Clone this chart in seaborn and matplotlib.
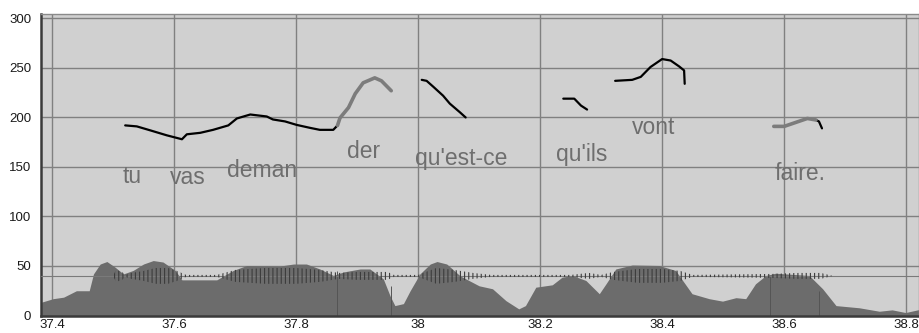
import numpy as np
import pandas as pd
import matplotlib
matplotlib.use("Agg")
import matplotlib.pyplot as plt
import seaborn as sns

# pitch contour (Hz), one list per voiced stretch
tu_deman_t = [37.520, 37.539, 37.561, 37.588, 37.613, 37.621, 37.643, 37.664, 37.689,
              37.703, 37.725, 37.752, 37.762, 37.782, 37.801, 37.823, 37.839, 37.861, 37.868]
tu_deman_f = [192, 191, 187, 182, 178, 183, 184.5, 187.5, 192,
              199, 203, 201, 198, 196, 192.5, 189.5, 187.5, 187.5, 192]
der_t = [37.868, 37.872, 37.886, 37.897, 37.910, 37.929, 37.940, 37.956]
der_f = [192, 199.5, 210, 224, 235, 240, 237, 227]
questce_t = [38.006, 38.014, 38.025, 38.041, 38.052, 38.069, 38.078]
questce_f = [238, 237, 231, 222, 214, 205, 200]
quils_t = [38.238, 38.256, 38.267, 38.277]
quils_f = [219, 219, 212, 208]
vont_t = [38.323, 38.351, 38.365, 38.381, 38.400, 38.414, 38.428, 38.436, 38.437]
vont_f = [237, 238, 241, 251, 259, 257.5, 251.5, 247.5, 234]
faire_t = [38.583, 38.600, 38.619, 38.638, 38.652]
faire_f = [191, 191, 195, 199, 197.5]
faire_end_t = [38.652, 38.657, 38.662]
faire_end_f = [197.5, 196, 189]

# intensity curve (dark filled area)
int_t = [37.383, 37.402, 37.419, 37.440, 37.461, 37.468, 37.479, 37.490, 37.503, 37.517,
         37.533, 37.550, 37.566, 37.582, 37.602, 37.613, 37.670, 37.697, 37.719, 37.774,
         37.796, 37.817, 37.839, 37.861, 37.878, 37.905, 37.921, 37.943, 37.954, 37.962,
         37.976, 37.987, 38.003, 38.020, 38.031, 38.047, 38.069, 38.100, 38.122, 38.144,
         38.165, 38.176, 38.193, 38.220, 38.236, 38.253, 38.275, 38.297, 38.308, 38.324,
         38.351, 38.395, 38.422, 38.449, 38.477, 38.499, 38.521, 38.537, 38.553, 38.570,
         38.586, 38.641, 38.663, 38.685, 38.723, 38.756, 38.777, 38.799, 38.821]
int_f = [13.5, 17, 18.5, 25, 25, 42, 52, 54.5, 49, 42,
         45.5, 52, 55.5, 54, 45.5, 36, 36, 45.5, 50.5, 50,
         52, 52, 47, 40.5, 44, 47, 47, 37, 20, 10,
         12, 25, 42, 52, 54.5, 52, 40, 30, 27, 15,
         6.7, 10, 28.6, 31, 38.7, 40.4, 35.4, 22, 32, 47,
         51, 50.5, 45.5, 22, 17, 14.5, 18, 17, 32, 40.4,
         42.7, 40.4, 27, 10, 7.8, 4.3, 5.7, 3, 6]

# waveform envelope (half amplitude around its zero line)
wave_zero = 40
wave_t = [37.50, 37.505, 37.515, 37.52, 37.53, 37.55, 37.57, 37.59, 37.605, 37.62,
          37.67, 37.70, 37.75, 37.80, 37.84, 37.87, 37.90, 37.95, 37.96,
          38.00, 38.03, 38.06, 38.09, 38.12, 38.25, 38.28, 38.30,
          38.32, 38.36, 38.40, 38.43, 38.45, 38.58, 38.62, 38.66, 38.68]
wave_a = [0, 6, 4, 1, 3, 5, 8, 8, 5, 1,
          1, 6, 8, 8, 6, 3, 4, 4, 1,
          1, 8, 6, 3, 1, 1, 3, 1,
          4, 7, 7, 5, 1, 2, 3, 3, 0]
seg_bounds = [37.867, 37.956, 38.577, 38.657]
seg_tops = [45, 30, 40, 25]

words = ["tu", "vas", "deman", "der", "qu'est-ce", "qu'ils", "vont", "faire."]
word_t = [37.531, 37.623, 37.744, 37.910, 38.070, 38.268, 38.386, 38.626]
word_f = [140, 139, 146.5, 166, 159, 162.6, 190, 143]

xticks = [37.4, 37.6, 37.8, 38.0, 38.2, 38.4, 38.6, 38.8]
xtick_labels = ["37.4", "37.6", "37.8", "38", "38.2", "38.4", "38.6", "38.8"]
yticks = [0, 50, 100, 150, 200, 250, 300]

sns.set_style("white")
plt.rcParams['font.family'] = ['Liberation Sans', 'DejaVu Sans']
plt.rcParams['hatch.linewidth'] = 0.8
plt.rcParams['hatch.color'] = '#3c3c3c'

fig = plt.figure(figsize=(9.19, 3.33), dpi=100)
ax = fig.add_axes([41 / 919, 17 / 333, 878 / 919, 302 / 333])
ax.set_facecolor("#d0d0d0")

ax.fill_between(int_t, 0, int_f, color="#6c6c6c", linewidth=0, zorder=2)
ax.vlines(seg_bounds, 0, seg_tops, color="#555555", linewidth=0.7, zorder=2.5)

ax.axhline(wave_zero, color="#7a7a7a", linewidth=0.8, zorder=3)
wlo = [wave_zero - a for a in wave_a]
whi = [wave_zero + a for a in wave_a]
ax.fill_between(wave_t, wlo, whi, facecolor="none", edgecolor="#3c3c3c",
                hatch="||||", linewidth=0, zorder=3)

for x in xticks:
    ax.axvline(x, color="#808080", linewidth=1.0, zorder=1)
for y in yticks:
    ax.axhline(y, color="#808080", linewidth=1.0, zorder=1)

black_parts = [(tu_deman_t, tu_deman_f), (questce_t, questce_f), (quils_t, quils_f),
               (vont_t, vont_f), (faire_end_t, faire_end_f)]
gray_parts = [(der_t, der_f), (faire_t, faire_f)]
for t, f in black_parts:
    sns.lineplot(x=t, y=f, ax=ax, color="black", linewidth=1.6, sort=False, zorder=5)
for t, f in gray_parts:
    sns.lineplot(x=t, y=f, ax=ax, color="#7c7c7c", linewidth=2.6, sort=False, zorder=5)

for w, t, f in zip(words, word_t, word_f):
    ax.text(t, f, w, ha="center", va="center", fontsize=16.5, color="#6e6e6e", zorder=6)

ax.set_xlim(37.382, 38.821)
ax.set_ylim(-0.5, 304.5)
ax.set_xticks(xticks)
ax.set_xticklabels(xtick_labels)
ax.set_yticks(yticks)
ax.tick_params(axis="both", length=0, labelsize=9.5, colors="#1a1a1a")
ax.tick_params(axis="y", pad=7)
ax.tick_params(axis="x", pad=2)
ax.grid(False)
ax.set_xlabel("")
ax.set_ylabel("")

for side in ["top", "right"]:
    ax.spines[side].set_color("#8a8a8a")
    ax.spines[side].set_linewidth(1.0)
for side in ["left", "bottom"]:
    ax.spines[side].set_color("#3a3a3a")
    ax.spines[side].set_linewidth(1.8)

fig.savefig("out.png", dpi=100, facecolor="white")
